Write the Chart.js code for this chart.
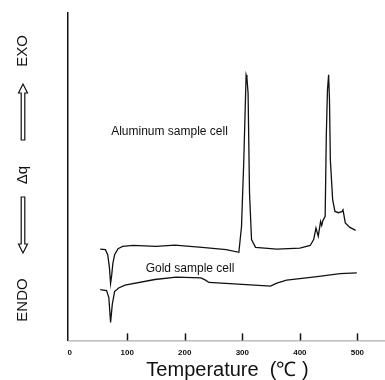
<!DOCTYPE html>
<html>
<head>
<meta charset="utf-8">
<script src="https://cdn.jsdelivr.net/npm/chart.js@4.4.0/dist/chart.umd.min.js"></script>
<style>
  html, body { margin: 0; padding: 0; background: #fff; }
  #wrap { width: 385px; height: 380px; }
</style>
</head>
<body>
<div id="wrap"><canvas id="dscChart"></canvas></div>
<script>
// DSC traces (temperature in degC, heat flow in arbitrary units 0-100)
var alTemp = [53, 62, 66, 69, 71, 73, 75, 78, 84, 92, 110, 150, 183, 230, 272, 294, 298.6, 302.6, 306.6, 308, 310, 312.5, 316, 323, 360, 400, 418, 424, 428, 432, 436, 438, 440, 444, 446, 448, 450, 451.5, 453, 457, 461, 467, 473, 475, 479, 487, 497];
var alHeat = [27.9, 27.7, 26.2, 22.3, 17.4, 20.0, 23.5, 26.2, 28.0, 28.7, 29.0, 28.7, 29.1, 28.4, 27.7, 26.9, 34.8, 55.2, 81.1, 80.2, 75.6, 45.1, 30.8, 28.4, 27.9, 28.2, 29.0, 30.8, 34.3, 31.8, 36.3, 35.1, 36.6, 37.9, 62.8, 76.5, 81.1, 73.5, 55.2, 43.0, 39.4, 39.0, 39.3, 39.9, 35.9, 34.5, 33.6];

var auTemp = [53, 64, 68, 71, 74, 78, 85, 96, 148, 185, 228, 236, 242, 300, 349, 360, 377, 430, 470, 499];
var auHeat = [15.5, 15.2, 13.1, 5.5, 11.0, 14.9, 16.0, 16.9, 18.6, 19.3, 19.1, 18.4, 17.7, 17.1, 16.6, 17.5, 18.4, 19.5, 20.4, 20.6];

var xTicks = [0, 100, 200, 300, 400, 500];
var xTitle = 'Temperature  (\u2103 )';

var curveLabels = [
    { text: 'Aluminum sample cell', x: 72, y: 63.7 },
    { text: 'Gold sample cell', x: 132, y: 22.0 }
];

function toPoints(xs, ys) {
    var pts = [];
    for (var i = 0; i < xs.length; i++) {
        pts.push({ x: xs[i], y: ys[i] });
    }
    return pts;
}

// inward tick marks, bottom line, axis title, curve labels and the ENDO/EXO side label
var decorPlugin = {
    id: 'decor',
    afterDraw: function (chart) {
        var ctx = chart.ctx;
        var xs = chart.scales.x;
        var ys = chart.scales.y;
        var area = chart.chartArea;
        ctx.save();

        // faint bottom axis line
        ctx.strokeStyle = '#9a9a9a';
        ctx.lineWidth = 1;
        ctx.beginPath();
        ctx.moveTo(area.left, area.bottom + 0.5);
        ctx.lineTo(area.right, area.bottom + 0.5);
        ctx.stroke();

        // short ticks pointing up
        ctx.strokeStyle = '#111';
        ctx.lineWidth = 1.5;
        xTicks.forEach(function (t) {
            if (t === 0) return;
            var px = Math.round(xs.getPixelForValue(t)) + 0.5;
            ctx.beginPath();
            ctx.moveTo(px, area.bottom);
            ctx.lineTo(px, area.bottom - 7);
            ctx.stroke();
        });

        // x axis title
        ctx.fillStyle = '#111';
        ctx.font = '20px "Liberation Sans", Arial, sans-serif';
        ctx.textAlign = 'center';
        ctx.textBaseline = 'middle';
        ctx.fillText(xTitle, (area.left + area.right) / 2 + 1, 370);

        // curve labels
        ctx.font = '12px "Liberation Sans", Arial, sans-serif';
        ctx.textAlign = 'left';
        curveLabels.forEach(function (l) {
            ctx.fillText(l.text, xs.getPixelForValue(l.x), ys.getPixelForValue(l.y));
        });

        // rotated side label: ENDO <= dq => EXO
        var cx = 23;
        ctx.font = '15px "Liberation Sans", Arial, sans-serif';
        ctx.textAlign = 'center';
        function vText(str, cy) {
            ctx.save();
            ctx.translate(cx, cy);
            ctx.rotate(-Math.PI / 2);
            ctx.fillText(str, 0, 0);
            ctx.restore();
        }
        vText('EXO', 51);
        vText('\u0394q', 175);
        vText('ENDO', 300);

        // outlined arrows
        function arrow(yTail, yHead) {
            var dir = yHead < yTail ? -1 : 1;
            var headLen = 9;
            var yBase = yHead - dir * headLen;
            ctx.beginPath();
            ctx.moveTo(cx - 1.8, yTail);
            ctx.lineTo(cx - 1.8, yBase);
            ctx.lineTo(cx - 4.5, yBase);
            ctx.lineTo(cx, yHead);
            ctx.lineTo(cx + 4.5, yBase);
            ctx.lineTo(cx + 1.8, yBase);
            ctx.lineTo(cx + 1.8, yTail);
            ctx.closePath();
            ctx.strokeStyle = '#111';
            ctx.lineWidth = 1.2;
            ctx.stroke();
        }
        arrow(140, 84);
        arrow(197, 253);

        ctx.restore();
    }
};

var ctx = document.getElementById('dscChart').getContext('2d');
var dscChart = new Chart(ctx, {
    type: 'line',
    data: {
        datasets: [{
            label: 'Aluminum sample cell',
            data: toPoints(alTemp, alHeat),
            borderColor: '#111',
            borderWidth: 1.3,
            pointRadius: 0,
            tension: 0,
            fill: false
        }, {
            label: 'Gold sample cell',
            data: toPoints(auTemp, auHeat),
            borderColor: '#111',
            borderWidth: 1.3,
            pointRadius: 0,
            tension: 0,
            fill: false
        }]
    },
    options: {
        responsive: true,
        maintainAspectRatio: false,
        animation: false,
        layout: {
            padding: { left: 68, right: 0, top: 13, bottom: 14 }
        },
        plugins: {
            legend: { display: false },
            tooltip: { enabled: false }
        },
        scales: {
            x: {
                type: 'linear',
                min: -3,
                max: 548,
                afterBuildTicks: function (scale) {
                    scale.ticks = xTicks.map(function (v) { return { value: v }; });
                },
                grid: { display: false, drawTicks: false },
                border: { display: false },
                ticks: {
                    color: '#111',
                    padding: 8,
                    maxRotation: 0,
                    font: { family: '"Liberation Sans", Arial, sans-serif', size: 8, weight: 'bold' }
                }
            },
            y: {
                min: 0,
                max: 100,
                ticks: { display: false },
                grid: { display: false, drawTicks: false },
                border: { display: true, color: '#111', width: 1.5 }
            }
        }
    },
    plugins: [decorPlugin]
});
</script>
</body>
</html>
